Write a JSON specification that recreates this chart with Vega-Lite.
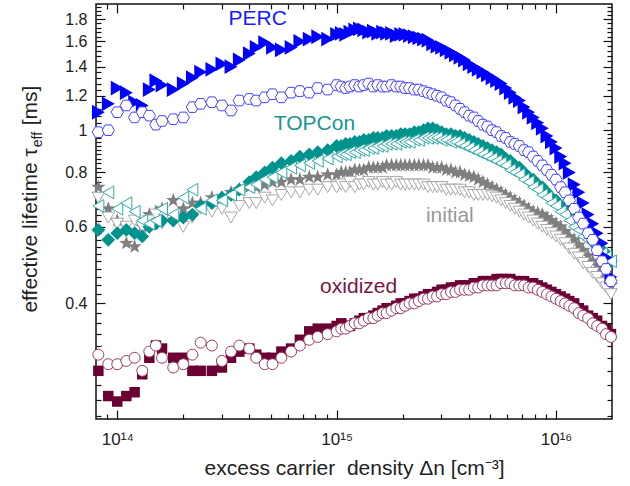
{
"$schema":"https://vega.github.io/schema/vega-lite/v6.json",
"width":516,"height":415,
"autosize":{"type":"none"},
"padding":{"left":96,"top":4,"right":18,"bottom":67},
"background":"white",
"config":{"view":{"stroke":"#111","strokeWidth":1.5},"font":"Liberation Sans","axis":{"grid":false,"domain":false,"tickColor":"#111","tickWidth":1.2,"labelColor":"#222","labelFont":"Liberation Sans","titleFont":"Liberation Sans","titleFontWeight":"normal","titleColor":"#222","labelFlush":false}},
"resolve":{"axis":{"x":"independent","y":"independent"}},
"datasets":{
"pf":[{"x":8.2e13,"y":1.10},{"x":9.1e13,"y":1.15},{"x":1e14,"y":1.25},{"x":1.1e14,"y":1.22},{"x":1.2e14,"y":1.16},{"x":1.3e14,"y":1.14},{"x":1.4e14,"y":1.24},{"x":1.5e14,"y":1.30},{"x":1.6e14,"y":1.27},{"x":1.8e14,"y":1.24},{"x":2e14,"y":1.28},{"x":2.2e14,"y":1.32},{"x":2.4e14,"y":1.36},{"x":2.7e14,"y":1.38},{"x":3e14,"y":1.42},{"x":3.3e14,"y":1.40},{"x":3.6e14,"y":1.45},{"x":4e14,"y":1.50},{"x":4.3e14,"y":1.55},{"x":4.7e14,"y":1.59},{"x":5.1e14,"y":1.55},{"x":5.6e14,"y":1.53},{"x":6.2e14,"y":1.55},{"x":6.8e14,"y":1.60},{"x":7.5e14,"y":1.62},{"x":8.2e14,"y":1.64},{"x":9.1e14,"y":1.62},{"x":1e15,"y":1.66},{"x":1.05e15,"y":1.67},{"x":1.1e15,"y":1.66},{"x":1.15e15,"y":1.68},{"x":1.21e15,"y":1.70},{"x":1.27e15,"y":1.71},{"x":1.33e15,"y":1.70},{"x":1.4e15,"y":1.68},{"x":1.47e15,"y":1.69},{"x":1.54e15,"y":1.67},{"x":1.62e15,"y":1.68},{"x":1.69e15,"y":1.67},{"x":1.78e15,"y":1.67},{"x":1.87e15,"y":1.65},{"x":1.96e15,"y":1.66},{"x":2.05e15,"y":1.66},{"x":2.15e15,"y":1.65},{"x":2.26e15,"y":1.64},{"x":2.37e15,"y":1.63},{"x":2.49e15,"y":1.62},{"x":2.61e15,"y":1.61},{"x":2.74e15,"y":1.58},{"x":2.87e15,"y":1.56},{"x":3.01e15,"y":1.55},{"x":3.16e15,"y":1.53},{"x":3.32e15,"y":1.51},{"x":3.48e15,"y":1.49},{"x":3.65e15,"y":1.47},{"x":3.83e15,"y":1.45},{"x":4.02e15,"y":1.42},{"x":4.22e15,"y":1.40},{"x":4.42e15,"y":1.38},{"x":4.64e15,"y":1.36},{"x":4.87e15,"y":1.34},{"x":5.11e15,"y":1.32},{"x":5.36e15,"y":1.30},{"x":5.62e15,"y":1.28},{"x":5.9e15,"y":1.25},{"x":6.19e15,"y":1.22},{"x":6.49e15,"y":1.19},{"x":6.81e15,"y":1.17},{"x":7.15e15,"y":1.13},{"x":7.5e15,"y":1.10},{"x":7.87e15,"y":1.07},{"x":8.25e15,"y":1.04},{"x":8.66e15,"y":1.01},{"x":9.09e15,"y":0.97},{"x":9.53e15,"y":0.94},{"x":1e16,"y":0.91},{"x":1.05e16,"y":0.87},{"x":1.1e16,"y":0.84},{"x":1.15e16,"y":0.80},{"x":1.21e16,"y":0.75},{"x":1.27e16,"y":0.72},{"x":1.33e16,"y":0.68},{"x":1.4e16,"y":0.64},{"x":1.47e16,"y":0.61},{"x":1.54e16,"y":0.58},{"x":1.62e16,"y":0.55},{"x":1.69e16,"y":0.51},{"x":1.78e16,"y":0.46}],
"po":[{"x":8.2e13,"y":0.99},{"x":9.1e13,"y":1.00},{"x":1e14,"y":1.10},{"x":1.1e14,"y":1.14},{"x":1.2e14,"y":1.07},{"x":1.3e14,"y":1.10},{"x":1.4e14,"y":1.08},{"x":1.5e14,"y":1.03},{"x":1.6e14,"y":1.05},{"x":1.8e14,"y":1.06},{"x":2e14,"y":1.07},{"x":2.2e14,"y":1.13},{"x":2.4e14,"y":1.15},{"x":2.7e14,"y":1.16},{"x":3e14,"y":1.14},{"x":3.3e14,"y":1.11},{"x":3.6e14,"y":1.17},{"x":4e14,"y":1.18},{"x":4.3e14,"y":1.17},{"x":4.7e14,"y":1.19},{"x":5.1e14,"y":1.21},{"x":5.6e14,"y":1.19},{"x":6.2e14,"y":1.22},{"x":6.8e14,"y":1.23},{"x":7.5e14,"y":1.22},{"x":8.2e14,"y":1.25},{"x":9.1e14,"y":1.24},{"x":1e15,"y":1.27},{"x":1.05e15,"y":1.26},{"x":1.1e15,"y":1.25},{"x":1.15e15,"y":1.26},{"x":1.21e15,"y":1.27},{"x":1.27e15,"y":1.26},{"x":1.33e15,"y":1.27},{"x":1.4e15,"y":1.28},{"x":1.47e15,"y":1.26},{"x":1.54e15,"y":1.27},{"x":1.62e15,"y":1.26},{"x":1.69e15,"y":1.26},{"x":1.78e15,"y":1.27},{"x":1.87e15,"y":1.26},{"x":1.96e15,"y":1.26},{"x":2.05e15,"y":1.25},{"x":2.15e15,"y":1.25},{"x":2.26e15,"y":1.24},{"x":2.37e15,"y":1.24},{"x":2.49e15,"y":1.23},{"x":2.61e15,"y":1.22},{"x":2.74e15,"y":1.21},{"x":2.87e15,"y":1.20},{"x":3.01e15,"y":1.19},{"x":3.16e15,"y":1.17},{"x":3.32e15,"y":1.16},{"x":3.48e15,"y":1.14},{"x":3.65e15,"y":1.12},{"x":3.83e15,"y":1.10},{"x":4.02e15,"y":1.08},{"x":4.22e15,"y":1.07},{"x":4.42e15,"y":1.05},{"x":4.64e15,"y":1.03},{"x":4.87e15,"y":1.02},{"x":5.11e15,"y":1.00},{"x":5.36e15,"y":0.99},{"x":5.62e15,"y":0.97},{"x":5.9e15,"y":0.96},{"x":6.19e15,"y":0.94},{"x":6.49e15,"y":0.93},{"x":6.81e15,"y":0.92},{"x":7.15e15,"y":0.90},{"x":7.5e15,"y":0.89},{"x":7.87e15,"y":0.87},{"x":8.25e15,"y":0.85},{"x":8.66e15,"y":0.83},{"x":9.09e15,"y":0.81},{"x":9.53e15,"y":0.79},{"x":1e16,"y":0.77},{"x":1.05e16,"y":0.74},{"x":1.1e16,"y":0.72},{"x":1.15e16,"y":0.69},{"x":1.21e16,"y":0.66},{"x":1.27e16,"y":0.63},{"x":1.33e16,"y":0.61},{"x":1.4e16,"y":0.58},{"x":1.47e16,"y":0.56},{"x":1.54e16,"y":0.53},{"x":1.62e16,"y":0.50},{"x":1.69e16,"y":0.48},{"x":1.78e16,"y":0.45}],
"tf":[{"x":8.2e13,"y":0.59},{"x":9.1e13,"y":0.56},{"x":1e14,"y":0.58},{"x":1.1e14,"y":0.59},{"x":1.2e14,"y":0.58},{"x":1.3e14,"y":0.57},{"x":1.4e14,"y":0.60},{"x":1.5e14,"y":0.61},{"x":1.6e14,"y":0.62},{"x":1.8e14,"y":0.62},{"x":2e14,"y":0.63},{"x":2.2e14,"y":0.64},{"x":2.4e14,"y":0.67},{"x":2.7e14,"y":0.68},{"x":3e14,"y":0.70},{"x":3.3e14,"y":0.71},{"x":3.6e14,"y":0.73},{"x":4e14,"y":0.76},{"x":4.3e14,"y":0.78},{"x":4.7e14,"y":0.80},{"x":5.1e14,"y":0.82},{"x":5.6e14,"y":0.84},{"x":6.2e14,"y":0.85},{"x":6.8e14,"y":0.87},{"x":7.5e14,"y":0.88},{"x":8.2e14,"y":0.89},{"x":9.1e14,"y":0.90},{"x":1e15,"y":0.92},{"x":1.05e15,"y":0.92},{"x":1.1e15,"y":0.93},{"x":1.15e15,"y":0.93},{"x":1.21e15,"y":0.94},{"x":1.27e15,"y":0.94},{"x":1.33e15,"y":0.95},{"x":1.4e15,"y":0.95},{"x":1.47e15,"y":0.96},{"x":1.54e15,"y":0.96},{"x":1.62e15,"y":0.96},{"x":1.69e15,"y":0.97},{"x":1.78e15,"y":0.97},{"x":1.87e15,"y":0.97},{"x":1.96e15,"y":0.98},{"x":2.05e15,"y":0.98},{"x":2.15e15,"y":0.98},{"x":2.26e15,"y":0.99},{"x":2.37e15,"y":0.99},{"x":2.49e15,"y":1.00},{"x":2.61e15,"y":1.01},{"x":2.74e15,"y":1.01},{"x":2.87e15,"y":1.00},{"x":3.01e15,"y":0.99},{"x":3.16e15,"y":0.98},{"x":3.32e15,"y":0.98},{"x":3.48e15,"y":0.97},{"x":3.65e15,"y":0.97},{"x":3.83e15,"y":0.96},{"x":4.02e15,"y":0.95},{"x":4.22e15,"y":0.94},{"x":4.42e15,"y":0.93},{"x":4.64e15,"y":0.92},{"x":4.87e15,"y":0.91},{"x":5.11e15,"y":0.90},{"x":5.36e15,"y":0.89},{"x":5.62e15,"y":0.88},{"x":5.9e15,"y":0.86},{"x":6.19e15,"y":0.85},{"x":6.49e15,"y":0.83},{"x":6.81e15,"y":0.82},{"x":7.15e15,"y":0.80},{"x":7.5e15,"y":0.78},{"x":7.87e15,"y":0.77},{"x":8.25e15,"y":0.75},{"x":8.66e15,"y":0.74},{"x":9.09e15,"y":0.72},{"x":9.53e15,"y":0.70},{"x":1e16,"y":0.69},{"x":1.05e16,"y":0.67},{"x":1.1e16,"y":0.66},{"x":1.15e16,"y":0.64},{"x":1.21e16,"y":0.62},{"x":1.27e16,"y":0.61},{"x":1.33e16,"y":0.59},{"x":1.4e16,"y":0.57},{"x":1.47e16,"y":0.56},{"x":1.54e16,"y":0.54},{"x":1.62e16,"y":0.53},{"x":1.69e16,"y":0.52},{"x":1.78e16,"y":0.50}],
"to":[{"x":8.2e13,"y":0.67},{"x":9.1e13,"y":0.72},{"x":1e14,"y":0.66},{"x":1.1e14,"y":0.68},{"x":1.2e14,"y":0.65},{"x":1.3e14,"y":0.62},{"x":1.4e14,"y":0.61},{"x":1.5e14,"y":0.62},{"x":1.6e14,"y":0.66},{"x":1.8e14,"y":0.64},{"x":2e14,"y":0.70},{"x":2.2e14,"y":0.73},{"x":2.4e14,"y":0.66},{"x":2.7e14,"y":0.69},{"x":3e14,"y":0.69},{"x":3.3e14,"y":0.71},{"x":3.6e14,"y":0.73},{"x":4e14,"y":0.74},{"x":4.3e14,"y":0.75},{"x":4.7e14,"y":0.77},{"x":5.1e14,"y":0.78},{"x":5.6e14,"y":0.80},{"x":6.2e14,"y":0.82},{"x":6.8e14,"y":0.83},{"x":7.5e14,"y":0.84},{"x":8.2e14,"y":0.85},{"x":9.1e14,"y":0.86},{"x":1e15,"y":0.87},{"x":1.05e15,"y":0.88},{"x":1.1e15,"y":0.88},{"x":1.15e15,"y":0.89},{"x":1.21e15,"y":0.89},{"x":1.27e15,"y":0.90},{"x":1.33e15,"y":0.90},{"x":1.4e15,"y":0.91},{"x":1.47e15,"y":0.91},{"x":1.54e15,"y":0.92},{"x":1.62e15,"y":0.92},{"x":1.69e15,"y":0.93},{"x":1.78e15,"y":0.93},{"x":1.87e15,"y":0.93},{"x":1.96e15,"y":0.94},{"x":2.05e15,"y":0.94},{"x":2.15e15,"y":0.94},{"x":2.26e15,"y":0.95},{"x":2.37e15,"y":0.95},{"x":2.49e15,"y":0.96},{"x":2.61e15,"y":0.96},{"x":2.74e15,"y":0.96},{"x":2.87e15,"y":0.96},{"x":3.01e15,"y":0.95},{"x":3.16e15,"y":0.95},{"x":3.32e15,"y":0.94},{"x":3.48e15,"y":0.94},{"x":3.65e15,"y":0.93},{"x":3.83e15,"y":0.92},{"x":4.02e15,"y":0.91},{"x":4.22e15,"y":0.90},{"x":4.42e15,"y":0.89},{"x":4.64e15,"y":0.88},{"x":4.87e15,"y":0.87},{"x":5.11e15,"y":0.86},{"x":5.36e15,"y":0.85},{"x":5.62e15,"y":0.84},{"x":5.9e15,"y":0.83},{"x":6.19e15,"y":0.81},{"x":6.49e15,"y":0.80},{"x":6.81e15,"y":0.79},{"x":7.15e15,"y":0.77},{"x":7.5e15,"y":0.76},{"x":7.87e15,"y":0.74},{"x":8.25e15,"y":0.73},{"x":8.66e15,"y":0.71},{"x":9.09e15,"y":0.70},{"x":9.53e15,"y":0.68},{"x":1e16,"y":0.67},{"x":1.05e16,"y":0.65},{"x":1.1e16,"y":0.64},{"x":1.15e16,"y":0.62},{"x":1.21e16,"y":0.60},{"x":1.27e16,"y":0.59},{"x":1.33e16,"y":0.57},{"x":1.4e16,"y":0.56},{"x":1.47e16,"y":0.55},{"x":1.54e16,"y":0.53},{"x":1.62e16,"y":0.52},{"x":1.69e16,"y":0.51},{"x":1.78e16,"y":0.50}],
"if":[{"x":8.2e13,"y":0.74},{"x":9.1e13,"y":0.66},{"x":1e14,"y":0.62},{"x":1.1e14,"y":0.55},{"x":1.2e14,"y":0.54},{"x":1.3e14,"y":0.60},{"x":1.4e14,"y":0.64},{"x":1.5e14,"y":0.65},{"x":1.6e14,"y":0.66},{"x":1.8e14,"y":0.69},{"x":2e14,"y":0.66},{"x":2.2e14,"y":0.68},{"x":2.4e14,"y":0.68},{"x":2.7e14,"y":0.70},{"x":3e14,"y":0.70},{"x":3.3e14,"y":0.72},{"x":3.6e14,"y":0.73},{"x":4e14,"y":0.74},{"x":4.3e14,"y":0.74},{"x":4.7e14,"y":0.75},{"x":5.1e14,"y":0.76},{"x":5.6e14,"y":0.76},{"x":6.2e14,"y":0.77},{"x":6.8e14,"y":0.77},{"x":7.5e14,"y":0.78},{"x":8.2e14,"y":0.78},{"x":9.1e14,"y":0.79},{"x":1e15,"y":0.79},{"x":1.05e15,"y":0.80},{"x":1.1e15,"y":0.80},{"x":1.15e15,"y":0.80},{"x":1.21e15,"y":0.81},{"x":1.27e15,"y":0.81},{"x":1.33e15,"y":0.81},{"x":1.4e15,"y":0.82},{"x":1.47e15,"y":0.82},{"x":1.54e15,"y":0.82},{"x":1.62e15,"y":0.82},{"x":1.69e15,"y":0.83},{"x":1.78e15,"y":0.83},{"x":1.87e15,"y":0.83},{"x":1.96e15,"y":0.83},{"x":2.05e15,"y":0.83},{"x":2.15e15,"y":0.83},{"x":2.26e15,"y":0.83},{"x":2.37e15,"y":0.83},{"x":2.49e15,"y":0.83},{"x":2.61e15,"y":0.83},{"x":2.74e15,"y":0.82},{"x":2.87e15,"y":0.82},{"x":3.01e15,"y":0.82},{"x":3.16e15,"y":0.81},{"x":3.32e15,"y":0.81},{"x":3.48e15,"y":0.80},{"x":3.65e15,"y":0.80},{"x":3.83e15,"y":0.79},{"x":4.02e15,"y":0.785},{"x":4.22e15,"y":0.78},{"x":4.42e15,"y":0.77},{"x":4.64e15,"y":0.76},{"x":4.87e15,"y":0.75},{"x":5.11e15,"y":0.74},{"x":5.36e15,"y":0.73},{"x":5.62e15,"y":0.72},{"x":5.9e15,"y":0.71},{"x":6.19e15,"y":0.70},{"x":6.49e15,"y":0.69},{"x":6.81e15,"y":0.68},{"x":7.15e15,"y":0.67},{"x":7.5e15,"y":0.66},{"x":7.87e15,"y":0.65},{"x":8.25e15,"y":0.645},{"x":8.66e15,"y":0.64},{"x":9.09e15,"y":0.63},{"x":9.53e15,"y":0.62},{"x":1e16,"y":0.61},{"x":1.05e16,"y":0.60},{"x":1.1e16,"y":0.585},{"x":1.15e16,"y":0.57},{"x":1.21e16,"y":0.56},{"x":1.27e16,"y":0.545},{"x":1.33e16,"y":0.53},{"x":1.4e16,"y":0.515},{"x":1.47e16,"y":0.50},{"x":1.54e16,"y":0.49},{"x":1.62e16,"y":0.475},{"x":1.69e16,"y":0.46},{"x":1.78e16,"y":0.44}],
"io":[{"x":8.2e13,"y":0.70},{"x":9.1e13,"y":0.63},{"x":1e14,"y":0.61},{"x":1.1e14,"y":0.60},{"x":1.2e14,"y":0.62},{"x":1.3e14,"y":0.60},{"x":1.4e14,"y":0.62},{"x":1.5e14,"y":0.64},{"x":1.6e14,"y":0.61},{"x":1.8e14,"y":0.62},{"x":2e14,"y":0.60},{"x":2.2e14,"y":0.63},{"x":2.4e14,"y":0.66},{"x":2.7e14,"y":0.65},{"x":3e14,"y":0.66},{"x":3.3e14,"y":0.63},{"x":3.6e14,"y":0.67},{"x":4e14,"y":0.68},{"x":4.3e14,"y":0.68},{"x":4.7e14,"y":0.70},{"x":5.1e14,"y":0.69},{"x":5.6e14,"y":0.71},{"x":6.2e14,"y":0.72},{"x":6.8e14,"y":0.72},{"x":7.5e14,"y":0.73},{"x":8.2e14,"y":0.73},{"x":9.1e14,"y":0.74},{"x":1e15,"y":0.74},{"x":1.05e15,"y":0.75},{"x":1.1e15,"y":0.74},{"x":1.15e15,"y":0.76},{"x":1.21e15,"y":0.74},{"x":1.27e15,"y":0.75},{"x":1.33e15,"y":0.75},{"x":1.4e15,"y":0.76},{"x":1.47e15,"y":0.75},{"x":1.54e15,"y":0.75},{"x":1.62e15,"y":0.76},{"x":1.69e15,"y":0.75},{"x":1.78e15,"y":0.75},{"x":1.87e15,"y":0.76},{"x":1.96e15,"y":0.75},{"x":2.05e15,"y":0.75},{"x":2.15e15,"y":0.75},{"x":2.26e15,"y":0.75},{"x":2.37e15,"y":0.75},{"x":2.49e15,"y":0.75},{"x":2.61e15,"y":0.74},{"x":2.74e15,"y":0.74},{"x":2.87e15,"y":0.74},{"x":3.01e15,"y":0.74},{"x":3.16e15,"y":0.73},{"x":3.32e15,"y":0.73},{"x":3.48e15,"y":0.73},{"x":3.65e15,"y":0.73},{"x":3.83e15,"y":0.72},{"x":4.02e15,"y":0.72},{"x":4.22e15,"y":0.71},{"x":4.42e15,"y":0.71},{"x":4.64e15,"y":0.71},{"x":4.87e15,"y":0.71},{"x":5.11e15,"y":0.705},{"x":5.36e15,"y":0.70},{"x":5.62e15,"y":0.69},{"x":5.9e15,"y":0.68},{"x":6.19e15,"y":0.67},{"x":6.49e15,"y":0.66},{"x":6.81e15,"y":0.65},{"x":7.15e15,"y":0.64},{"x":7.5e15,"y":0.63},{"x":7.87e15,"y":0.62},{"x":8.25e15,"y":0.61},{"x":8.66e15,"y":0.60},{"x":9.09e15,"y":0.59},{"x":9.53e15,"y":0.58},{"x":1e16,"y":0.57},{"x":1.05e16,"y":0.56},{"x":1.1e16,"y":0.55},{"x":1.15e16,"y":0.535},{"x":1.21e16,"y":0.52},{"x":1.27e16,"y":0.51},{"x":1.33e16,"y":0.495},{"x":1.4e16,"y":0.485},{"x":1.47e16,"y":0.47},{"x":1.54e16,"y":0.46},{"x":1.62e16,"y":0.445},{"x":1.69e16,"y":0.435},{"x":1.78e16,"y":0.42}],
"of":[{"x":8.2e13,"y":0.28},{"x":9.1e13,"y":0.245},{"x":1e14,"y":0.238},{"x":1.1e14,"y":0.245},{"x":1.2e14,"y":0.25},{"x":1.3e14,"y":0.275},{"x":1.4e14,"y":0.30},{"x":1.5e14,"y":0.32},{"x":1.6e14,"y":0.315},{"x":1.8e14,"y":0.30},{"x":2e14,"y":0.30},{"x":2.2e14,"y":0.28},{"x":2.4e14,"y":0.28},{"x":2.7e14,"y":0.28},{"x":3e14,"y":0.285},{"x":3.3e14,"y":0.30},{"x":3.6e14,"y":0.31},{"x":4e14,"y":0.315},{"x":4.3e14,"y":0.305},{"x":4.7e14,"y":0.30},{"x":5.1e14,"y":0.30},{"x":5.6e14,"y":0.31},{"x":6.2e14,"y":0.315},{"x":6.8e14,"y":0.33},{"x":7.5e14,"y":0.345},{"x":8.2e14,"y":0.35},{"x":9.1e14,"y":0.35},{"x":1e15,"y":0.355},{"x":1.05e15,"y":0.36},{"x":1.1e15,"y":0.355},{"x":1.15e15,"y":0.355},{"x":1.21e15,"y":0.36},{"x":1.27e15,"y":0.365},{"x":1.33e15,"y":0.37},{"x":1.4e15,"y":0.37},{"x":1.47e15,"y":0.375},{"x":1.54e15,"y":0.38},{"x":1.62e15,"y":0.385},{"x":1.69e15,"y":0.39},{"x":1.78e15,"y":0.39},{"x":1.87e15,"y":0.395},{"x":1.96e15,"y":0.40},{"x":2.05e15,"y":0.40},{"x":2.15e15,"y":0.405},{"x":2.26e15,"y":0.41},{"x":2.37e15,"y":0.41},{"x":2.49e15,"y":0.415},{"x":2.61e15,"y":0.42},{"x":2.74e15,"y":0.42},{"x":2.87e15,"y":0.425},{"x":3.01e15,"y":0.43},{"x":3.16e15,"y":0.43},{"x":3.32e15,"y":0.435},{"x":3.48e15,"y":0.435},{"x":3.65e15,"y":0.44},{"x":3.83e15,"y":0.44},{"x":4.02e15,"y":0.44},{"x":4.22e15,"y":0.445},{"x":4.42e15,"y":0.445},{"x":4.64e15,"y":0.45},{"x":4.87e15,"y":0.45},{"x":5.11e15,"y":0.45},{"x":5.36e15,"y":0.455},{"x":5.62e15,"y":0.455},{"x":5.9e15,"y":0.455},{"x":6.19e15,"y":0.455},{"x":6.49e15,"y":0.45},{"x":6.81e15,"y":0.45},{"x":7.15e15,"y":0.45},{"x":7.5e15,"y":0.445},{"x":7.87e15,"y":0.445},{"x":8.25e15,"y":0.44},{"x":8.66e15,"y":0.435},{"x":9.09e15,"y":0.43},{"x":9.53e15,"y":0.425},{"x":1e16,"y":0.42},{"x":1.05e16,"y":0.415},{"x":1.1e16,"y":0.41},{"x":1.15e16,"y":0.405},{"x":1.21e16,"y":0.40},{"x":1.27e16,"y":0.39},{"x":1.33e16,"y":0.385},{"x":1.4e16,"y":0.375},{"x":1.47e16,"y":0.37},{"x":1.54e16,"y":0.365},{"x":1.62e16,"y":0.355},{"x":1.69e16,"y":0.35},{"x":1.78e16,"y":0.34}],
"oo":[{"x":8.2e13,"y":0.305},{"x":9.1e13,"y":0.29},{"x":1e14,"y":0.29},{"x":1.1e14,"y":0.295},{"x":1.2e14,"y":0.30},{"x":1.3e14,"y":0.28},{"x":1.4e14,"y":0.31},{"x":1.5e14,"y":0.32},{"x":1.6e14,"y":0.30},{"x":1.8e14,"y":0.285},{"x":2e14,"y":0.29},{"x":2.2e14,"y":0.305},{"x":2.4e14,"y":0.325},{"x":2.7e14,"y":0.32},{"x":3e14,"y":0.295},{"x":3.3e14,"y":0.31},{"x":3.6e14,"y":0.32},{"x":4e14,"y":0.315},{"x":4.3e14,"y":0.30},{"x":4.7e14,"y":0.29},{"x":5.1e14,"y":0.29},{"x":5.6e14,"y":0.30},{"x":6.2e14,"y":0.31},{"x":6.8e14,"y":0.32},{"x":7.5e14,"y":0.33},{"x":8.2e14,"y":0.335},{"x":9.1e14,"y":0.34},{"x":1e15,"y":0.345},{"x":1.05e15,"y":0.35},{"x":1.1e15,"y":0.35},{"x":1.15e15,"y":0.355},{"x":1.21e15,"y":0.36},{"x":1.27e15,"y":0.36},{"x":1.33e15,"y":0.365},{"x":1.4e15,"y":0.37},{"x":1.47e15,"y":0.37},{"x":1.54e15,"y":0.375},{"x":1.62e15,"y":0.38},{"x":1.69e15,"y":0.38},{"x":1.78e15,"y":0.385},{"x":1.87e15,"y":0.39},{"x":1.96e15,"y":0.39},{"x":2.05e15,"y":0.395},{"x":2.15e15,"y":0.40},{"x":2.26e15,"y":0.40},{"x":2.37e15,"y":0.405},{"x":2.49e15,"y":0.41},{"x":2.61e15,"y":0.41},{"x":2.74e15,"y":0.415},{"x":2.87e15,"y":0.415},{"x":3.01e15,"y":0.42},{"x":3.16e15,"y":0.42},{"x":3.32e15,"y":0.425},{"x":3.48e15,"y":0.425},{"x":3.65e15,"y":0.43},{"x":3.83e15,"y":0.43},{"x":4.02e15,"y":0.43},{"x":4.22e15,"y":0.435},{"x":4.42e15,"y":0.435},{"x":4.64e15,"y":0.44},{"x":4.87e15,"y":0.44},{"x":5.11e15,"y":0.44},{"x":5.36e15,"y":0.44},{"x":5.62e15,"y":0.445},{"x":5.9e15,"y":0.445},{"x":6.19e15,"y":0.445},{"x":6.49e15,"y":0.44},{"x":6.81e15,"y":0.44},{"x":7.15e15,"y":0.44},{"x":7.5e15,"y":0.435},{"x":7.87e15,"y":0.435},{"x":8.25e15,"y":0.43},{"x":8.66e15,"y":0.425},{"x":9.09e15,"y":0.42},{"x":9.53e15,"y":0.415},{"x":1e16,"y":0.41},{"x":1.05e16,"y":0.405},{"x":1.1e16,"y":0.40},{"x":1.15e16,"y":0.395},{"x":1.21e16,"y":0.39},{"x":1.27e16,"y":0.38},{"x":1.33e16,"y":0.375},{"x":1.4e16,"y":0.37},{"x":1.47e16,"y":0.36},{"x":1.54e16,"y":0.355},{"x":1.62e16,"y":0.35},{"x":1.69e16,"y":0.34},{"x":1.78e16,"y":0.335}]
},
"layer":[
{"data":{"name":"if"},"mark":{"type":"point","shape":"M0,-1L0.235,-0.324L0.951,-0.309L0.38,0.124L0.588,0.809L0,0.4L-0.588,0.809L-0.38,0.124L-0.951,-0.309L-0.235,-0.324Z","filled":true,"fill":"#7f7f7f","strokeWidth":0,"size":230,"opacity":1},
 "encoding":{
  "x":{"field":"x","type":"quantitative","scale":{"type":"log","domain":[8e13,1.8e16],"nice":false},
   "axis":{"orient":"bottom","values":[1e14,1e15,1e16],"tickSize":-9,"labelExpr":"datum.value < 5e14 ? '10¹⁴' : datum.value < 5e15 ? '10¹⁵' : '10¹⁶'","labelFontSize":17,"labelPadding":21,"title":"excess carrier\u00a0 density Δn [cm⁻³]","titleFontSize":21,"titlePadding":10}},
  "y":{"field":"y","type":"quantitative","scale":{"type":"log","domain":[0.217,1.95],"nice":false},
   "axis":{"orient":"left","values":[0.4,0.6,0.8,1,1.2,1.4,1.6,1.8],"format":"~g","tickSize":-9,"labelFontSize":16,"labelPadding":18,"title":null}}}},
{"data":{"name":"io"},"mark":{"type":"point","shape":"triangle-down","filled":true,"fill":"white","stroke":"#a8a8a8","strokeWidth":1,"size":160,"opacity":1},
 "encoding":{
  "x":{"field":"x","type":"quantitative","scale":{"type":"log","domain":[8e13,1.8e16],"nice":false},
   "axis":{"orient":"bottom","values":[9e13,2e14,3e14,4e14,5e14,6e14,7e14,8e14,9e14,2e15,3e15,4e15,5e15,6e15,7e15,8e15,9e15],"tickSize":-5,"labels":false,"title":null}},
  "y":{"field":"y","type":"quantitative","scale":{"type":"log","domain":[0.217,1.95],"nice":false},
   "axis":{"orient":"left","values":[0.22,0.24,0.26,0.28,0.3,0.32,0.34,0.36,0.38,0.42,0.44,0.46,0.48,0.5,0.52,0.54,0.56,0.58,0.62,0.64,0.66,0.68,0.7,0.72,0.74,0.76,0.78,0.82,0.84,0.86,0.88,0.9,0.92,0.94,0.96,0.98,1.04,1.08,1.12,1.16,1.24,1.28,1.32,1.36,1.44,1.48,1.52,1.56,1.64,1.68,1.72,1.76,1.84,1.88,1.92],"tickSize":-5,"labels":false,"title":null}}}},
{"data":{"name":"tf"},"mark":{"type":"point","shape":"diamond","filled":true,"fill":"#00938e","strokeWidth":0,"size":190,"opacity":1},
 "encoding":{
  "x":{"field":"x","type":"quantitative","scale":{"type":"log","domain":[8e13,1.8e16],"nice":false},
   "axis":{"orient":"top","values":[1e14,1e15,1e16],"tickSize":-9,"labels":false,"title":null}},
  "y":{"field":"y","type":"quantitative","scale":{"type":"log","domain":[0.217,1.95],"nice":false},
   "axis":{"orient":"right","values":[0.4,0.6,0.8,1,1.2,1.4,1.6,1.8],"tickSize":-9,"labels":false,"title":null}}}},
{"data":{"name":"to"},"mark":{"type":"point","shape":"triangle-left","filled":true,"fill":"white","stroke":"#33aba5","strokeWidth":1,"size":160,"opacity":1},
 "encoding":{
  "x":{"field":"x","type":"quantitative","scale":{"type":"log","domain":[8e13,1.8e16],"nice":false},
   "axis":{"orient":"top","values":[9e13,2e14,3e14,4e14,5e14,6e14,7e14,8e14,9e14,2e15,3e15,4e15,5e15,6e15,7e15,8e15,9e15],"tickSize":-5,"labels":false,"title":null}},
  "y":{"field":"y","type":"quantitative","scale":{"type":"log","domain":[0.217,1.95],"nice":false},
   "axis":{"orient":"right","values":[0.22,0.24,0.26,0.28,0.3,0.32,0.34,0.36,0.38,0.42,0.44,0.46,0.48,0.5,0.52,0.54,0.56,0.58,0.62,0.64,0.66,0.68,0.7,0.72,0.74,0.76,0.78,0.82,0.84,0.86,0.88,0.9,0.92,0.94,0.96,0.98,1.04,1.08,1.12,1.16,1.24,1.28,1.32,1.36,1.44,1.48,1.52,1.56,1.64,1.68,1.72,1.76,1.84,1.88,1.92],"tickSize":-5,"labels":false,"title":null}}}},
{"data":{"name":"pf"},"mark":{"type":"point","shape":"triangle-right","filled":true,"fill":"#0000ff","strokeWidth":0,"size":220,"opacity":1},
 "encoding":{"x":{"field":"x","type":"quantitative","scale":{"type":"log","domain":[8e13,1.8e16],"nice":false},"axis":null},"y":{"field":"y","type":"quantitative","scale":{"type":"log","domain":[0.217,1.95],"nice":false},"axis":null}}},
{"data":{"name":"po"},"mark":{"type":"point","shape":"M-1,0L-0.5,-0.866L0.5,-0.866L1,0L0.5,0.866L-0.5,0.866Z","filled":true,"fill":"white","stroke":"#4444ff","strokeWidth":1,"size":150,"opacity":1},
 "encoding":{"x":{"field":"x","type":"quantitative","scale":{"type":"log","domain":[8e13,1.8e16],"nice":false},"axis":null},"y":{"field":"y","type":"quantitative","scale":{"type":"log","domain":[0.217,1.95],"nice":false},"axis":null}}},
{"data":{"name":"of"},"mark":{"type":"point","shape":"square","filled":true,"fill":"#6b0033","strokeWidth":0,"size":110,"opacity":1},
 "encoding":{"x":{"field":"x","type":"quantitative","scale":{"type":"log","domain":[8e13,1.8e16],"nice":false},"axis":null},"y":{"field":"y","type":"quantitative","scale":{"type":"log","domain":[0.217,1.95],"nice":false},"axis":null}}},
{"data":{"name":"oo"},"mark":{"type":"point","shape":"circle","filled":true,"fill":"white","stroke":"#9a3d66","strokeWidth":1,"size":120,"opacity":1},
 "encoding":{"x":{"field":"x","type":"quantitative","scale":{"type":"log","domain":[8e13,1.8e16],"nice":false},"axis":null},"y":{"field":"y","type":"quantitative","scale":{"type":"log","domain":[0.217,1.95],"nice":false},"axis":null}}},
{"data":{"values":[{"x":4.37e14,"y":1.743,"t":"PERC"}]},"mark":{"type":"text","font":"Liberation Sans","fontSize":21,"color":"#1a1aff","align":"center","baseline":"alphabetic"},
 "encoding":{"x":{"field":"x","type":"quantitative","scale":{"type":"log","domain":[8e13,1.8e16],"nice":false},"axis":null},"y":{"field":"y","type":"quantitative","scale":{"type":"log","domain":[0.217,1.95],"nice":false},"axis":null},"text":{"field":"t"}}},
{"data":{"values":[{"x":7.92e14,"y":1.0,"t":"TOPCon"}]},"mark":{"type":"text","font":"Liberation Sans","fontSize":21,"color":"#17968f","align":"center","baseline":"alphabetic"},
 "encoding":{"x":{"field":"x","type":"quantitative","scale":{"type":"log","domain":[8e13,1.8e16],"nice":false},"axis":null},"y":{"field":"y","type":"quantitative","scale":{"type":"log","domain":[0.217,1.95],"nice":false},"axis":null},"text":{"field":"t"}}},
{"data":{"values":[{"x":3.28e15,"y":0.614,"t":"initial"}]},"mark":{"type":"text","font":"Liberation Sans","fontSize":21,"color":"#999999","align":"center","baseline":"alphabetic"},
 "encoding":{"x":{"field":"x","type":"quantitative","scale":{"type":"log","domain":[8e13,1.8e16],"nice":false},"axis":null},"y":{"field":"y","type":"quantitative","scale":{"type":"log","domain":[0.217,1.95],"nice":false},"axis":null},"text":{"field":"t"}}},
{"data":{"values":[{"x":1.26e15,"y":0.422,"t":"oxidized"}]},"mark":{"type":"text","font":"Liberation Sans","fontSize":21,"color":"#7a1545","align":"center","baseline":"alphabetic"},
 "encoding":{"x":{"field":"x","type":"quantitative","scale":{"type":"log","domain":[8e13,1.8e16],"nice":false},"axis":null},"y":{"field":"y","type":"quantitative","scale":{"type":"log","domain":[0.217,1.95],"nice":false},"axis":null},"text":{"field":"t"}}},
{"data":{"values":[{"x":4.32e13,"y":0.909,"t":"effective lifetime τ"}]},"mark":{"type":"text","font":"Liberation Sans","fontSize":21,"color":"#222222","align":"right","baseline":"alphabetic","angle":270},
 "encoding":{"x":{"field":"x","type":"quantitative","scale":{"type":"log","domain":[8e13,1.8e16],"nice":false},"axis":null},"y":{"field":"y","type":"quantitative","scale":{"type":"log","domain":[0.217,1.95],"nice":false},"axis":null},"text":{"field":"t"}}},
{"data":{"values":[{"x":4.32e13,"y":0.909,"t":"eff"}]},"mark":{"type":"text","font":"Liberation Sans","fontSize":14,"color":"#222222","align":"left","baseline":"alphabetic","angle":270,"dx":1,"dy":5},
 "encoding":{"x":{"field":"x","type":"quantitative","scale":{"type":"log","domain":[8e13,1.8e16],"nice":false},"axis":null},"y":{"field":"y","type":"quantitative","scale":{"type":"log","domain":[0.217,1.95],"nice":false},"axis":null},"text":{"field":"t"}}},
{"data":{"values":[{"x":4.32e13,"y":0.909,"t":"[ms]"}]},"mark":{"type":"text","font":"Liberation Sans","fontSize":21,"color":"#222222","align":"left","baseline":"alphabetic","angle":270,"dx":23},
 "encoding":{"x":{"field":"x","type":"quantitative","scale":{"type":"log","domain":[8e13,1.8e16],"nice":false},"axis":null},"y":{"field":"y","type":"quantitative","scale":{"type":"log","domain":[0.217,1.95],"nice":false},"axis":null},"text":{"field":"t"}}}
]
}
